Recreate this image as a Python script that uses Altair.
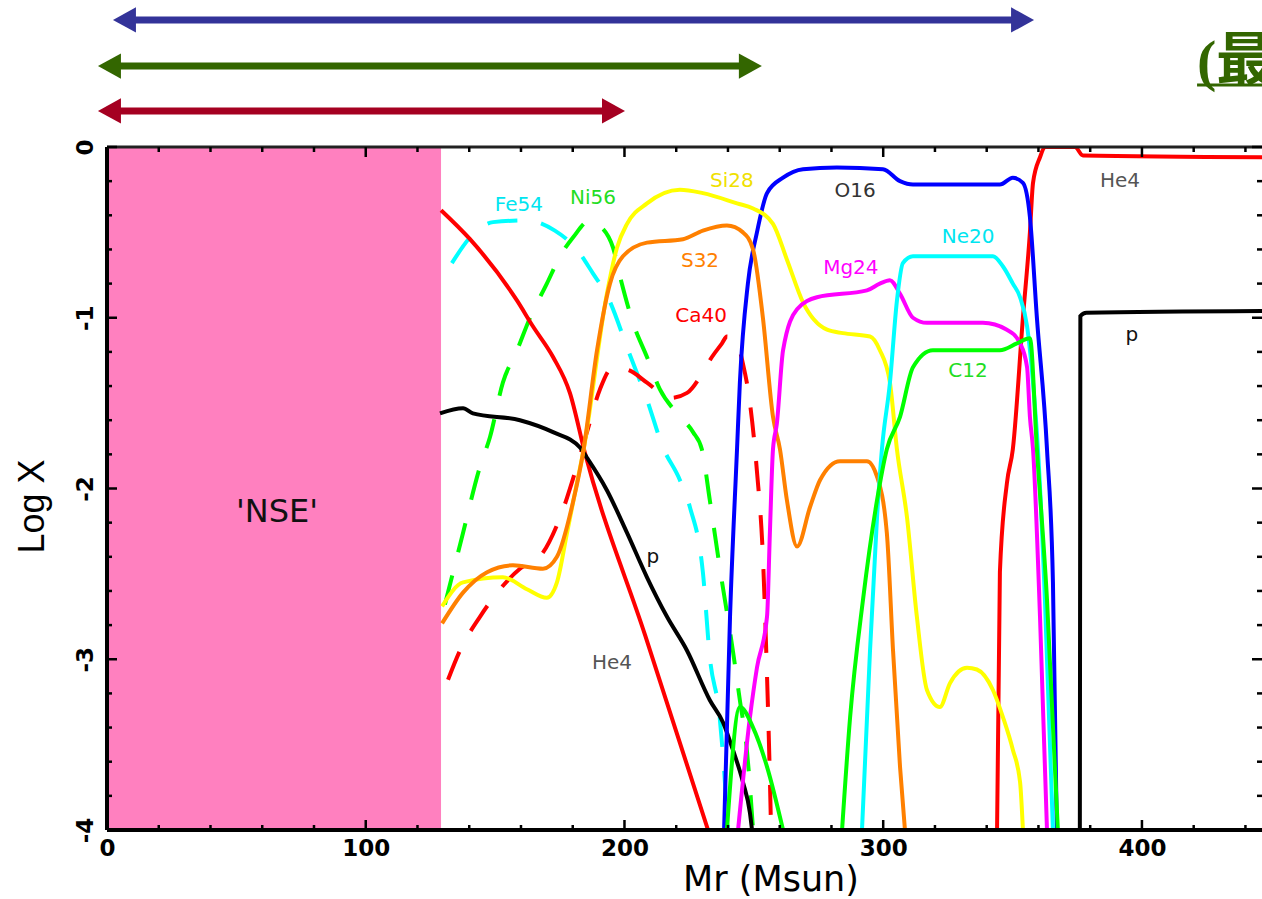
import altair as alt
import pandas as pd

# ---------------- data (Mr [Msun], log X) ----------------
X_MAX = 446.4
HE4_A = [(129.1,-0.37),(140.3,-0.54),(158.5,-0.90),(164.6,-1.05),(172.4,-1.23),(178.9,-1.44),
         (184.7,-1.79),(208.0,-2.86),(232.3,-4.0)]
HE4_B = [(344.0,-4.0),(345.1,-2.49),(347.8,-1.97),(350.1,-1.77),(354.0,-1.00),(356.7,-0.50),
         (357.9,-0.21),(360.6,-0.06),(362.5,0.0),(374.1,0.0),(377.2,-0.05),(446.4,-0.06)]
P_A = [(128.7,-1.56),(137.6,-1.53),(141.4,-1.56),(159.6,-1.60),(172.4,-1.67),(182.8,-1.76),
       (185.5,-1.82),(193.2,-2.01),(201.0,-2.26),(208.7,-2.52),(216.4,-2.75),(224.2,-2.95),
       (233.0,-3.24),(238.1,-3.37),(241.9,-3.53),(245.8,-3.72),(248.5,-3.90),(249.3,-4.0)]
P_B = [(376.0,-4.0),(376.2,-0.99),(378.5,-0.97),(446.4,-0.96)]
O16 = [(238.5,-4.0),(240.8,-2.75),(243.5,-1.77),(244.6,-1.38),(247.7,-0.80),(251.2,-0.50),
       (255.1,-0.27),(261.3,-0.18),(269.0,-0.13),(282.1,-0.12),(299.9,-0.13),(306.5,-0.20),
       (311.5,-0.22),(345.1,-0.22),(350.1,-0.18),(354.0,-0.21),(356.7,-0.41),(359.4,-1.00),
       (363.3,-1.77),(365.6,-2.55),(367.1,-4.0)]
SI28 = [(129.5,-2.69),(137.6,-2.55),(153.0,-2.52),(162.3,-2.59),(170.0,-2.64),(173.9,-2.55),
        (177.8,-2.26),(181.6,-1.97),(184.0,-1.79),(193.2,-0.86),(197.1,-0.59),(201.0,-0.45),
        (208.7,-0.33),(221.4,-0.25),(230.3,-0.27),(243.5,-0.33),(249.7,-0.36),(257.4,-0.45),
        (262.8,-0.66),(269.0,-0.91),(278.3,-1.07),(284.4,-1.09),(294.9,-1.11),(298.7,-1.19),
        (302.6,-1.38),(305.3,-1.77),(309.2,-2.17),(313.0,-2.75),(316.9,-3.18),(321.9,-3.28),
        (325.8,-3.14),(332.4,-3.05),(336.2,-3.06),(342.4,-3.18),(346.3,-3.34),(350.1,-3.53),
        (352.9,-3.72),(354.0,-4.0)]
S32 = [(129.5,-2.79),(137.6,-2.61),(146.9,-2.49),(156.9,-2.45),(168.5,-2.47),(173.9,-2.40),
       (180.1,-2.08),(184.0,-1.79),(189.4,-1.19),(194.4,-0.80),(199.4,-0.64),(208.7,-0.56),
       (222.6,-0.54),(230.3,-0.49),(239.6,-0.46),(245.8,-0.50),(249.7,-0.60),(253.5,-1.00),
       (257.4,-1.58),(260.1,-1.77),(262.8,-2.07),(266.7,-2.34),(271.7,-2.11),(275.6,-1.95),
       (283.3,-1.84),(293.7,-1.84),(297.6,-1.93),(301.4,-2.26),(303.8,-2.95),(306.5,-3.63),
       (308.4,-4.0)]
MG24 = [(243.9,-4.0),(248.5,-3.34),(251.2,-3.05),(255.1,-2.75),(256.2,-2.26),(257.4,-1.77),
        (258.9,-1.62),(261.3,-1.19),(266.7,-0.95),(274.4,-0.88),(293.7,-0.84),(298.7,-0.80),
        (302.6,-0.78),(306.5,-0.86),(311.5,-1.00),(316.9,-1.03),(338.5,-1.03),(347.8,-1.07),
        (352.9,-1.15),(355.6,-1.29),(356.7,-1.58),(357.9,-1.77),(360.6,-2.75),(363.3,-4.0)]
NE20 = [(291.8,-4.0),(294.9,-2.95),(297.6,-2.17),(299.5,-1.77),(302.6,-1.38),(305.3,-0.90),
        (307.6,-0.68),(311.5,-0.64),(342.4,-0.64),(346.3,-0.70),(350.1,-0.80),(352.9,-0.88),
        (355.6,-1.05),(357.9,-1.38),(359.8,-1.77),(362.5,-2.65),(365.6,-4.0)]
C12_A = [(239.6,-4.0),(244.6,-3.28),(249.7,-3.40),(255.1,-3.63),(261.3,-4.0)]
C12_B = [(284.1,-4.0),(287.2,-3.34),(292.2,-2.65),(297.6,-2.07),(301.4,-1.77),(306.5,-1.58),
         (311.5,-1.29),(319.2,-1.19),(345.1,-1.19),(351.7,-1.15),(356.7,-1.12),(359.4,-1.77),
         (363.3,-2.65),(367.5,-4.0)]
FE54 = [(133.3,-0.68),(140.3,-0.53),(149.2,-0.44),(162.3,-0.43),(173.1,-0.49),(181.6,-0.60),
        (187.8,-0.74),(193.6,-0.88),(201.4,-1.19),(208.7,-1.48),(214.9,-1.76),(221.4,-1.95),
        (225.3,-2.11),(230.3,-2.49),(233.0,-2.99),(236.8,-3.34),(238.5,-3.65),(240.0,-4.0)]
NI56 = [(130.6,-2.68),(137.6,-2.26),(144.2,-1.87),(148.0,-1.70),(153.0,-1.38),(158.5,-1.19),
        (163.5,-1.00),(170.0,-0.80),(175.1,-0.64),(180.1,-0.53),(186.7,-0.43),(189.4,-0.45),
        (195.6,-0.59),(198.3,-0.76),(203.3,-1.03),(208.7,-1.23),(213.7,-1.42),(220.3,-1.56),
        (226.5,-1.67),(229.9,-1.77),(233.0,-2.07),(236.8,-2.46),(241.9,-2.95),(244.6,-3.24),
        (247.3,-3.53),(249.7,-4.0)]
CA40 = [(131.8,-3.12),(136.4,-2.95),(144.2,-2.75),(151.9,-2.59),(159.6,-2.47),(167.3,-2.40),
        (175.1,-2.17),(181.6,-1.87),(185.5,-1.67),(190.5,-1.42),(195.6,-1.29),(202.1,-1.31),
        (208.7,-1.38),(217.7,-1.47),(224.2,-1.44),(229.9,-1.33),(233.8,-1.23),(237.7,-1.15),
        (239.6,-1.11),(243.5,-1.15),(245.8,-1.27),(248.5,-1.50),(251.2,-1.90),(253.5,-2.40),
        (255.1,-3.10),(256.2,-3.70),(256.6,-3.96)]

# NSE region
NSE_START, NSE_END = 0.0, 129.1

# in-plot labels
LABEL_TEXT = ["Fe54", "Ni56", "Si28", "O16", "He4", "S32", "Ca40", "Mg24", "Ne20", "C12", "p", "p", "He4"]
LABEL_X = [159.2, 187.8, 241.5, 289.1, 391.5, 229.2, 229.6, 287.5, 332.8, 332.8, 396.1, 211.0, 195.2]
LABEL_Y = [-0.34, -0.30, -0.20, -0.26, -0.20, -0.67, -0.99, -0.71, -0.53, -1.31, -1.10, -2.40, -3.02]
LABEL_COLOR = ["#00E5F0", "#22DD22", "#F0E000", "#333333", "#555555", "#FF8000", "#FF0000",
               "#FF00FF", "#00E5F0", "#22DD22", "#111111", "#111111", "#555555"]

# range arrows above the plot (tips in Mr, height in log-X units above 0)
ARROW_LEFT = [2.3, -3.5, -3.5]
ARROW_RIGHT = [358.3, 253.1, 200.2]
ARROW_Y = [0.744, 0.474, 0.211]
ARROW_COLOR = ["#333399", "#336600", "#A50021"]

# ticks
X_MAJOR = [0, 100, 200, 300, 400]
X_MINOR = [v for v in range(20, 441, 20) if v % 100 != 0]
Y_MAJOR = [0, -1, -2, -3, -4]
Y_MINOR = [round(-0.2 * k, 1) for k in range(1, 20) if k % 5 != 0]

# ---------------- build tables ----------------
CURVES = [
    ("He4a", "#FF0000", "solid", HE4_A), ("He4b", "#FF0000", "solid", HE4_B),
    ("pa", "#000000", "solid", P_A), ("pb", "#000000", "solid", P_B),
    ("O16", "#0000FF", "solid", O16), ("Si28", "#FFFF00", "solid", SI28),
    ("S32", "#FF8000", "solid", S32), ("Mg24", "#FF00FF", "solid", MG24),
    ("Ne20", "#00FFFF", "solid", NE20), ("C12a", "#00FF00", "solid", C12_A),
    ("C12b", "#00FF00", "solid", C12_B),
    ("Fe54", "#00FFFF", "dash", FE54), ("Ni56", "#00FF00", "dash", NI56),
    ("Ca40", "#FF0000", "dash", CA40),
]
rows = []
for name, col, style, pts in CURVES:
    for i, (x, y) in enumerate(pts):
        rows.append({"x": x, "y": y, "seg": name, "col": col, "style": style, "i": i})
df = pd.DataFrame(rows)

W, H = 1155, 683
xs = alt.Scale(domain=[0, X_MAX], nice=False, zero=False)
ys = alt.Scale(domain=[-4, 0], nice=False, zero=False)

xaxis = alt.Axis(values=X_MAJOR, title="Mr (Msun)", ticks=False, tickSize=0, domain=False, grid=False,
                 labelFont="DejaVu Sans", labelFontWeight="bold", labelFontSize=23, labelColor="black",
                 labelPadding=7, labelBaseline="top", labelFlush=False, labelOverlap=False,
                 titleFont="DejaVu Sans", titleFontSize=35, titleFontWeight="normal", titleColor="black",
                 titleX=663.5, titleY=60, titleAlign="center", titleBaseline="alphabetic")
yaxis = alt.Axis(values=Y_MAJOR, labelExpr="'' + datum.value", title="Log X", ticks=False, tickSize=0,
                 domain=False, grid=False, labelAngle=270, labelAlign="center", labelBaseline="alphabetic",
                 labelPadding=15, labelFont="DejaVu Sans", labelFontWeight="bold", labelFontSize=23,
                 labelColor="black", labelFlush=False, labelOverlap=False,
                 titleFont="Liberation Sans", titleFontSize=36, titleFontWeight="normal", titleColor="black",
                 titleAngle=270, titleX=-64, titleY=359, titleAlign="center", titleBaseline="alphabetic")


def X(field):
    return alt.X(field, type="quantitative", scale=xs, axis=xaxis)


def Y(field):
    return alt.Y(field, type="quantitative", scale=ys, axis=yaxis)


one = pd.DataFrame({"a": [0]})

nse = alt.Chart(pd.DataFrame({"x0": [NSE_START], "x1": [NSE_END], "y0": [0.0], "y1": [-4.0]})).mark_rect(
    color="#FF80BF").encode(x=X("x0"), x2="x1:Q", y=Y("y0"), y2="y1:Q")

nse_text = alt.Chart(pd.DataFrame({"x": [65.7], "y": [-2.14], "t": ["'NSE'"]})).mark_text(
    font="DejaVu Sans", fontSize=32, color="#111111", baseline="middle", align="center").encode(
    x=X("x"), y=Y("y"), text="t:N")

dashed = alt.Chart(df[df["style"] == "dash"]).mark_line(
    interpolate="monotone", strokeWidth=4, strokeDash=[30, 24], clip=True).encode(
    x=X("x"), y=Y("y"), color=alt.Color("col:N", scale=None), detail="seg:N", order="i:Q")

solid = alt.Chart(df[df["style"] == "solid"]).mark_line(
    interpolate="monotone", strokeWidth=4, clip=True).encode(
    x=X("x"), y=Y("y"), color=alt.Color("col:N", scale=None), detail="seg:N", order="i:Q")

labels = alt.Chart(pd.DataFrame({"x": LABEL_X, "y": LABEL_Y, "t": LABEL_TEXT, "c": LABEL_COLOR})).mark_text(
    font="DejaVu Sans", fontSize=20, baseline="middle", align="center").encode(
    x=X("x"), y=Y("y"), text="t:N", color=alt.Color("c:N", scale=None))

# frame
frame_left = alt.Chart(one).mark_rule(color="black", strokeWidth=4).encode(
    x=alt.value(0), y=alt.value(0), y2=alt.value(H))
frame_top = alt.Chart(one).mark_rule(color="#222222", strokeWidth=3).encode(
    y=alt.value(0), x=alt.value(0), x2=alt.value(W))
frame_bottom = alt.Chart(one).mark_rule(color="black", strokeWidth=4).encode(
    y=alt.value(H), x=alt.value(0), x2=alt.value(W))


def xticks(vals, y0, y1):
    return alt.Chart(pd.DataFrame({"v": vals})).mark_rule(color="black", strokeWidth=2.5).encode(
        x=X("v"), y=alt.value(y0), y2=alt.value(y1))


def yticks(vals, x0, x1):
    return alt.Chart(pd.DataFrame({"v": vals})).mark_rule(color="black", strokeWidth=2.5).encode(
        y=Y("v"), x=alt.value(x0), x2=alt.value(x1))


ticks = [
    xticks(X_MAJOR, H, H - 10), xticks(X_MINOR, H, H - 5),
    xticks(X_MAJOR, 0, 10), xticks(X_MINOR, 0, 5),
    yticks(Y_MAJOR, 0, 10), yticks(Y_MINOR, 0, 5),
    yticks(Y_MAJOR, W, W - 10), yticks(Y_MINOR, W, W - 5),
]

arr = pd.DataFrame({"x1": ARROW_LEFT, "x2": ARROW_RIGHT, "y": ARROW_Y, "c": ARROW_COLOR})
shafts = alt.Chart(arr).mark_rule(strokeWidth=7, xOffset=10, x2Offset=-10).encode(
    x=X("x1"), x2="x2:Q", y=Y("y"), color=alt.Color("c:N", scale=None))
head_l = alt.Chart(arr).mark_point(shape="M0,0L1,-0.55L1,0.55Z", size=2116, filled=True,
                                   opacity=1, strokeWidth=0).encode(
    x=X("x1"), y=Y("y"), color=alt.Color("c:N", scale=None))
head_r = alt.Chart(arr).mark_point(shape="M0,0L-1,-0.55L-1,0.55Z", size=2116, filled=True,
                                   opacity=1, strokeWidth=0).encode(
    x=X("x2"), y=Y("y"), color=alt.Color("c:N", scale=None))

title_txt = alt.Chart(pd.DataFrame({"x": [421.3], "y": [0.392], "t": ["(最"]})).mark_text(
    font="Liberation Serif, Noto Sans CJK SC", fontSize=58, fontWeight="bold", color="#336600",
    align="left", baseline="alphabetic").encode(x=X("x"), y=Y("y"), text="t:N")
title_ul = alt.Chart(pd.DataFrame({"x": [421.3], "x2": [X_MAX], "y": [0.363]})).mark_rule(
    color="#336600", strokeWidth=3).encode(x=X("x"), x2="x2:Q", y=Y("y"))

chart = alt.layer(
    nse, nse_text, dashed, solid, labels, frame_left, frame_top, frame_bottom, *ticks,
    shafts, head_l, head_r, title_txt, title_ul
).properties(
    width=W, height=H,
    autosize=alt.AutoSizeParams(type="none"),
    padding={"left": 107, "top": 147, "right": 0, "bottom": 69},
    background="white",
).configure_view(stroke=None)

chart.save("out.html", embed_options={"renderer": "svg", "actions": False})
